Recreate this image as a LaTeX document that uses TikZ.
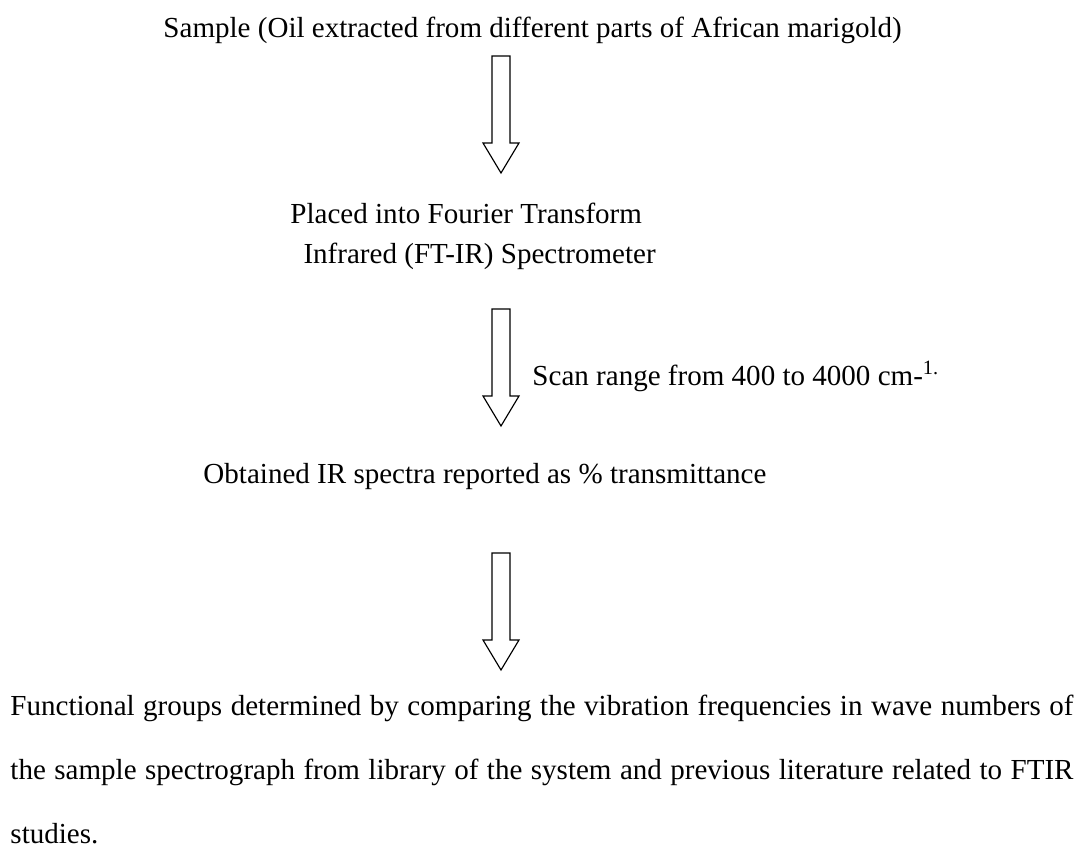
\documentclass[tikz,border=0pt]{standalone}
\usepackage{fontspec}
\setmainfont{Liberation Serif}
\usetikzlibrary{positioning}

\begin{document}
\begin{tikzpicture}[x=0.4286pt,y=-0.4286pt,
stage/.style={inner sep=0pt,font=\fontsize{12.45}{17.1}\selectfont},
hollow/.style={draw,line width=.5pt}]
\useasboundingbox (0,0) rectangle (1079,855);
\node[stage,anchor=base west](sample) at (163,37){Sample (Oil extracted from different parts of African marigold)};
\node[stage,anchor=north west,align=left](placed) at (290,203){Placed into Fourier Transform\\\hspace*{5.6pt}Infrared (FT-IR) Spectrometer};
\node[stage,anchor=base west](scan) at (532,385){Scan range from 400 to 4000 cm-\textsuperscript{1.}};
\node[stage,anchor=base west](spectra) at (203,483){Obtained IR spectra reported as \% transmittance};
\node[stage,anchor=north west,text width=455.6pt,align=justify,font=\fontsize{12.45}{27.4}\selectfont](groups) at (10,695){Functional groups determined by comparing the vibration frequencies in wave numbers of\linebreak the sample spectrograph from library of the system and previous literature related to FTIR\linebreak studies.};
% block arrows between the steps
\foreach \n/\t in {1/56,2/309,3/553}{
  \coordinate (tip\n) at (501,\t+117);
  \draw[hollow] (492,\t) -- (510,\t) -- (510,\t+87) -- (519,\t+87) -- (tip\n) -- (483,\t+87) -- (492,\t+87) -- cycle;}
\end{tikzpicture}
\end{document}
